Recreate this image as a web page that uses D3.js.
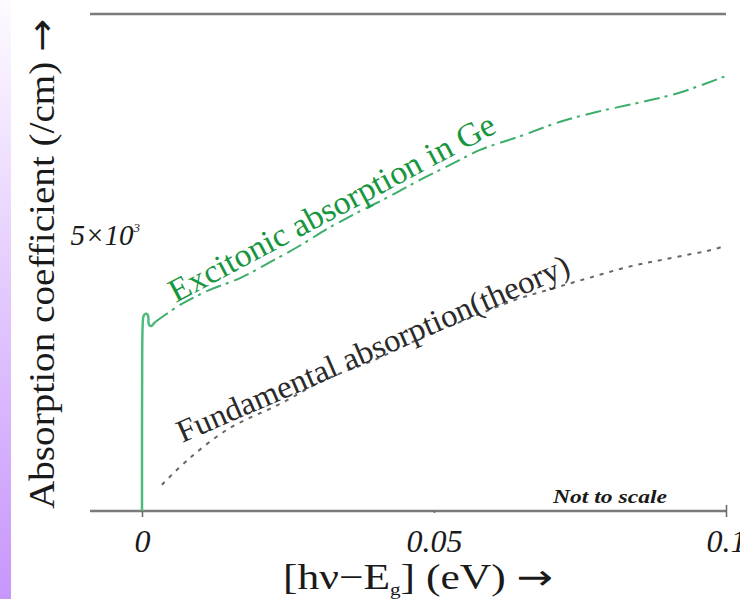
<!DOCTYPE html>
<html>
<head>
<meta charset="utf-8">
<script src="https://cdn.jsdelivr.net/npm/d3@7"></script>
<style>
  body { margin: 0; background: #fff; }
  text { font-family: "Liberation Serif", "DejaVu Serif", serif; }
</style>
</head>
<body>
<div id="plot"></div>
<script>
// Data (x in eV above the gap, y in /cm, not to scale)
const xTicks = [0, 0.05, 0.1];
const xTickLabels = ["0", "0.05", "0.1"];

// sharp excitonic edge with its little hook
const edgeX = [0, 0, 0.0002, 0.0007, 0.0012, 0.001, 0.0016, 0.0022];
const edgeY = [0, 3380, 3500, 3550, 3490, 3340, 3290, 3380];

// excitonic absorption in Ge
const excitonX = [0.0022, 0.0065, 0.0116, 0.0168, 0.022, 0.027, 0.032, 0.037, 0.0425,
  0.0476, 0.053, 0.058, 0.065, 0.0716, 0.078, 0.085, 0.092, 0.1];
const excitonY = [3380, 3690, 3960, 4170, 4460, 4750, 5070, 5350, 5640,
  5930, 6210, 6470, 6720, 6970, 7150, 7310, 7490, 7790];

// fundamental absorption (theory)
const fundX = [0.0034, 0.0082, 0.0151, 0.0233, 0.0313, 0.0397, 0.0485, 0.0546,
  0.0639, 0.0702, 0.0764, 0.0832, 0.0896, 0.0981, 0.0998];
const fundY = [470, 950, 1490, 1900, 2350, 2700, 3130, 3390,
  3780, 3980, 4170, 4370, 4510, 4690, 4750];

const markValue = 5000;

// Chart setup
const width = 740;
const height = 599;

const svg = d3.select("#plot")
  .append("svg")
  .attr("width", width)
  .attr("height", height);

const x = d3.scaleLinear().domain([0, 0.1]).range([142, 726]);
const y = d3.scaleLinear().domain([0, 8900]).range([511, 14]);

// lavender strip on the left edge
const grad = svg.append("defs").append("linearGradient")
  .attr("id", "strip")
  .attr("x1", 0).attr("y1", 0).attr("x2", 0).attr("y2", 1);
grad.append("stop").attr("offset", "0%").attr("stop-color", "#fdfbff");
grad.append("stop").attr("offset", "100%").attr("stop-color", "#c796fb");

svg.append("rect")
  .attr("x", 0).attr("y", 0)
  .attr("width", 11).attr("height", height)
  .attr("fill", "url(#strip)");

// top frame line and x axis base line
const xLeft = x.invert(90);
svg.append("line")
  .attr("x1", x(xLeft)).attr("x2", x(0.1))
  .attr("y1", y(8900)).attr("y2", y(8900))
  .attr("stroke", "#7a7a7a")
  .attr("stroke-width", 2.5);

svg.append("line")
  .attr("x1", x(xLeft)).attr("x2", x(0.1))
  .attr("y1", y(0)).attr("y2", y(0))
  .attr("stroke", "#7a7a7a")
  .attr("stroke-width", 2.5);

// x axis ticks and labels
const xAxis = svg.append("g")
  .attr("transform", `translate(0, ${y(0)})`)
  .call(d3.axisBottom(x)
    .tickValues(xTicks)
    .tickSize(6)
    .tickPadding(12)
    .tickFormat((d, i) => xTickLabels[i]));

xAxis.select(".domain").remove();
xAxis.selectAll(".tick line")
  .attr("stroke", "#666")
  .attr("stroke-width", 1.5)
  .attr("y1", (d) => d === 0.1 ? -6 : 0)
  .attr("y2", (d) => d === 0.05 ? 2 : 6);
xAxis.selectAll(".tick text")
  .attr("fill", "#1a1a1a")
  .style("font-family", "'Liberation Serif', serif")
  .style("font-style", "italic")
  .style("font-size", "32px");

// axis titles
const yTitle = svg.append("text")
  .attr("transform", `translate(54, 264) rotate(-90)`)
  .attr("text-anchor", "middle")
  .attr("fill", "#1a1a1a")
  .attr("textLength", 490)
  .attr("lengthAdjust", "spacingAndGlyphs")
  .style("font-size", "36px");
yTitle.append("tspan").text("Absorption coefficient (/cm) ");
yTitle.append("tspan").style("font-family", "'DejaVu Sans', sans-serif").text("\u2192");

const xTitle = svg.append("text")
  .attr("x", 418)
  .attr("y", 589)
  .attr("text-anchor", "middle")
  .attr("fill", "#1a1a1a")
  .attr("textLength", 270)
  .attr("lengthAdjust", "spacingAndGlyphs")
  .style("font-size", "35px");
xTitle.append("tspan").text("[h\u03bd\u2212E");
xTitle.append("tspan").attr("dy", 6).style("font-size", "17px").text("g");
xTitle.append("tspan").attr("dy", -6).text("] (eV) ");
xTitle.append("tspan").style("font-family", "'DejaVu Sans', sans-serif").text("\u2192");

// 5x10^3 marker on the y axis
const mark = svg.append("text")
  .attr("x", 140)
  .attr("y", y(markValue) + 13)
  .attr("text-anchor", "end")
  .attr("fill", "#1a1a1a")
  .style("font-style", "italic")
  .style("font-size", "29px");
mark.append("tspan").text("5\u00d710");
mark.append("tspan").attr("dy", -13).style("font-size", "13px").text("3");

svg.append("text")
  .attr("x", 553)
  .attr("y", 503)
  .attr("fill", "#1a1a1a")
  .attr("textLength", 114)
  .attr("lengthAdjust", "spacingAndGlyphs")
  .style("font-style", "italic")
  .style("font-weight", "bold")
  .style("font-size", "19px")
  .text("Not to scale");

// curves
const line = d3.line()
  .x((d) => x(d[0]))
  .y((d) => y(d[1]))
  .curve(d3.curveCatmullRom);

svg.append("path")
  .datum(d3.zip(edgeX, edgeY))
  .attr("d", d3.line().x((d) => x(d[0])).y((d) => y(d[1])).curve(d3.curveBasis))
  .attr("fill", "none")
  .attr("stroke", "#4cbb7c")
  .attr("stroke-width", 2.5);

svg.append("path")
  .datum(d3.zip(excitonX, excitonY))
  .attr("d", line)
  .attr("fill", "none")
  .attr("stroke", "#3cae6a")
  .attr("stroke-width", 2)
  .attr("stroke-dasharray", "16,5,3,6");

svg.append("path")
  .datum(d3.zip(fundX, fundY))
  .attr("d", line)
  .attr("fill", "none")
  .attr("stroke", "#666")
  .attr("stroke-width", 2)
  .attr("stroke-dasharray", "4,6");

// curve labels, set along the curves
svg.append("text")
  .attr("transform", `translate(${x(0.0058)}, ${y(3725)}) rotate(-28)`)
  .attr("fill", "#17963f")
  .attr("textLength", 365)
  .attr("lengthAdjust", "spacingAndGlyphs")
  .style("font-size", "33px")
  .text("Excitonic absorption in Ge");

svg.append("text")
  .attr("transform", `translate(${x(0.0069)}, ${y(1218)}) rotate(-23.5)`)
  .attr("fill", "#2a2a2a")
  .attr("textLength", 425)
  .attr("lengthAdjust", "spacingAndGlyphs")
  .style("font-size", "32px")
  .text("Fundamental absorption(theory)");
</script>
</body>
</html>
